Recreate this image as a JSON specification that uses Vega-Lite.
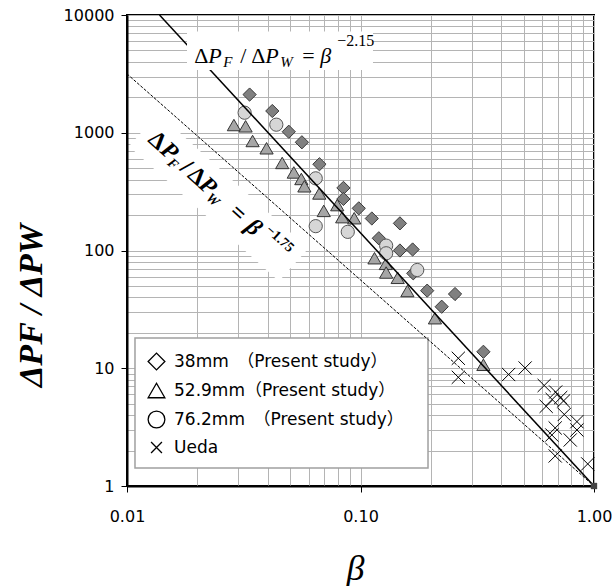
{
  "$schema": "https://vega.github.io/schema/vega-lite/v6.json",
  "width": 467,
  "height": 471,
  "autosize": {"type": "none"},
  "padding": {"left": 127, "top": 15, "right": 19, "bottom": 100},
  "background": "white",
  "config": {
    "view": {"stroke": "black", "strokeWidth": 2},
    "axis": {
      "grid": true,
      "gridColor": "#b4b4b4", "gridWidth": 1, "gridOpacity": 1,
      "domainColor": "black", "domainWidth": 2,
      "tickColor": "black",
      "labelFont": "DejaVu Sans", "labelFontSize": 16, "labelColor": "black"
    }
  },
  "resolve": {"scale": {"shape": "independent"}, "legend": {"shape": "independent"}},
  "layer": [
    {
      "data": {"values": [{}]},
      "mark": {"type": "rule", "color": "white", "strokeWidth": 44, "strokeCap": "butt"},
      "encoding": {
        "x": {"datum": 0.01178, "type": "quantitative", "scale": {"type": "log", "domain": [0.01, 1], "nice": false}, "axis": {"grid": true}},
        "y": {"datum": 1058, "type": "quantitative", "scale": {"type": "log", "domain": [1, 10000], "nice": false}, "axis": {"grid": true}},
        "x2": {"datum": 0.0517},
        "y2": {"datum": 75.5}
      }
    },
    {
      "data": {"values": [{}]},
      "mark": {"type": "rect", "fill": "white", "stroke": "#a0a0a0", "strokeWidth": 1.5},
      "encoding": {
        "x": {"datum": 0.01082, "type": "quantitative"},
        "x2": {"datum": 0.1946},
        "y": {"datum": 18.07, "type": "quantitative"},
        "y2": {"datum": 1.422}
      }
    },
    {
      "data": {"values": [
        {"b": 0.0335, "r": 2110, "series": "38mm　（Present study）"},
        {"b": 0.0419, "r": 1530, "series": "38mm　（Present study）"},
        {"b": 0.0493, "r": 1020, "series": "38mm　（Present study）"},
        {"b": 0.0561, "r": 830, "series": "38mm　（Present study）"},
        {"b": 0.0667, "r": 540, "series": "38mm　（Present study）"},
        {"b": 0.0845, "r": 340, "series": "38mm　（Present study）"},
        {"b": 0.0845, "r": 274, "series": "38mm　（Present study）"},
        {"b": 0.0983, "r": 228, "series": "38mm　（Present study）"},
        {"b": 0.1118, "r": 187, "series": "38mm　（Present study）"},
        {"b": 0.1475, "r": 170, "series": "38mm　（Present study）"},
        {"b": 0.1198, "r": 127, "series": "38mm　（Present study）"},
        {"b": 0.1475, "r": 100, "series": "38mm　（Present study）"},
        {"b": 0.1672, "r": 102, "series": "38mm　（Present study）"},
        {"b": 0.1682, "r": 64, "series": "38mm　（Present study）"},
        {"b": 0.193, "r": 45.6, "series": "38mm　（Present study）"},
        {"b": 0.2227, "r": 33.3, "series": "38mm　（Present study）"},
        {"b": 0.254, "r": 42.7, "series": "38mm　（Present study）"},
        {"b": 0.336, "r": 13.8, "series": "38mm　（Present study）"},
        {"b": 0.0287, "r": 1163, "series": "52.9mm（Present study）"},
        {"b": 0.0322, "r": 1134, "series": "52.9mm（Present study）"},
        {"b": 0.0345, "r": 851, "series": "52.9mm（Present study）"},
        {"b": 0.0396, "r": 738, "series": "52.9mm（Present study）"},
        {"b": 0.0462, "r": 554, "series": "52.9mm（Present study）"},
        {"b": 0.0518, "r": 460, "series": "52.9mm（Present study）"},
        {"b": 0.0558, "r": 405, "series": "52.9mm（Present study）"},
        {"b": 0.0575, "r": 351, "series": "52.9mm（Present study）"},
        {"b": 0.0666, "r": 305, "series": "52.9mm（Present study）"},
        {"b": 0.0696, "r": 217, "series": "52.9mm（Present study）"},
        {"b": 0.0795, "r": 243, "series": "52.9mm（Present study）"},
        {"b": 0.0835, "r": 192, "series": "52.9mm（Present study）"},
        {"b": 0.094, "r": 188, "series": "52.9mm（Present study）"},
        {"b": 0.1148, "r": 86, "series": "52.9mm（Present study）"},
        {"b": 0.1284, "r": 77, "series": "52.9mm（Present study）"},
        {"b": 0.1288, "r": 65, "series": "52.9mm（Present study）"},
        {"b": 0.1443, "r": 58.6, "series": "52.9mm（Present study）"},
        {"b": 0.1588, "r": 45.3, "series": "52.9mm（Present study）"},
        {"b": 0.2084, "r": 26.6, "series": "52.9mm（Present study）"},
        {"b": 0.336, "r": 10.7, "series": "52.9mm（Present study）"},
        {"b": 0.0319, "r": 1480, "series": "76.2mm　（Present study）"},
        {"b": 0.0436, "r": 1171, "series": "76.2mm　（Present study）"},
        {"b": 0.0643, "r": 410, "series": "76.2mm　（Present study）"},
        {"b": 0.0643, "r": 161, "series": "76.2mm　（Present study）"},
        {"b": 0.0882, "r": 144, "series": "76.2mm　（Present study）"},
        {"b": 0.1288, "r": 110, "series": "76.2mm　（Present study）"},
        {"b": 0.1288, "r": 94.7, "series": "76.2mm　（Present study）"},
        {"b": 0.175, "r": 68.3, "series": "76.2mm　（Present study）"},
        {"b": 0.2624, "r": 12.15, "series": "Ueda"},
        {"b": 0.2624, "r": 8.38, "series": "Ueda"},
        {"b": 0.4309, "r": 8.85, "series": "Ueda"},
        {"b": 0.507, "r": 10.05, "series": "Ueda"},
        {"b": 0.612, "r": 7.14, "series": "Ueda"},
        {"b": 0.685, "r": 6.28, "series": "Ueda"},
        {"b": 0.72, "r": 5.64, "series": "Ueda"},
        {"b": 0.662, "r": 5.43, "series": "Ueda"},
        {"b": 0.74, "r": 5.27, "series": "Ueda"},
        {"b": 0.624, "r": 4.75, "series": "Ueda"},
        {"b": 0.746, "r": 4.05, "series": "Ueda"},
        {"b": 0.845, "r": 3.52, "series": "Ueda"},
        {"b": 0.682, "r": 3.11, "series": "Ueda"},
        {"b": 0.845, "r": 2.99, "series": "Ueda"},
        {"b": 0.66, "r": 2.71, "series": "Ueda"},
        {"b": 0.791, "r": 2.46, "series": "Ueda"},
        {"b": 0.682, "r": 1.8, "series": "Ueda"},
        {"b": 0.94, "r": 1.54, "series": "Ueda"}
      ]},
      "mark": {"type": "point", "filled": true, "size": 175, "strokeWidth": 1, "opacity": 1},
      "encoding": {
        "x": {
          "field": "b", "type": "quantitative",
          "scale": {"type": "log", "domain": [0.01, 1], "nice": false},
          "axis": {
            "grid": true,
            "title": "β", "titleFont": "Liberation Serif", "titleFontStyle": "italic", "titleFontWeight": "normal", "titleFontSize": 36, "titleColor": "black",
            "titleX": 228, "titleY": 93, "titleAlign": "center", "titleBaseline": "alphabetic",
            "values": [0.01,0.02,0.03,0.04,0.05,0.06,0.07,0.08,0.09,0.1,0.2,0.3,0.4,0.5,0.6,0.7,0.8,0.9,1],
            "labelExpr": "(datum.value == 0.01 || datum.value == 0.1 || datum.value == 1) ? format(datum.value, '.2f') : ''",
            "tickSize": {"condition": {"test": "datum.value == 0.01 || datum.value == 0.1 || datum.value == 1", "value": 6}, "value": 0},
            "labelPadding": 16, "labelFlush": false, "labelOverlap": false
          }
        },
        "y": {
          "field": "r", "type": "quantitative",
          "scale": {"type": "log", "domain": [1, 10000], "nice": false},
          "axis": {
            "grid": true,
            "title": "ΔPF / ΔPW", "titleFont": "Liberation Serif", "titleFontStyle": "italic", "titleFontWeight": "bold", "titleFontSize": 34, "titleColor": "black",
            "titleAngle": 270, "titleX": -96, "titleY": 290, "titleAlign": "center", "titleBaseline": "middle",
            "values": [1,2,3,4,5,6,7,8,9,10,20,30,40,50,60,70,80,90,100,200,300,400,500,600,700,800,900,1000,2000,3000,4000,5000,6000,7000,8000,9000,10000],
            "labelExpr": "(datum.value == 1 || datum.value == 10 || datum.value == 100 || datum.value == 1000 || datum.value == 10000) ? format(datum.value, 'd') : ''",
            "tickSize": {"condition": {"test": "datum.value == 1 || datum.value == 10 || datum.value == 100 || datum.value == 1000 || datum.value == 10000", "value": 6}, "value": 0},
            "labelPadding": 7, "labelFlush": false, "labelOverlap": false
          }
        },
        "shape": {
          "field": "series", "type": "nominal", "legend": null,
          "scale": {"domain": ["38mm　（Present study）", "52.9mm（Present study）", "76.2mm　（Present study）", "Ueda"], "range": ["diamond", "triangle-up", "circle", "M-1,-1L1,1M1,-1L-1,1"]}
        },
        "fill": {
          "field": "series", "type": "nominal", "legend": null,
          "scale": {"domain": ["38mm　（Present study）", "52.9mm（Present study）", "76.2mm　（Present study）", "Ueda"], "range": ["#808080", "#a6a6a6", "#d6d6d6", "transparent"]}
        },
        "stroke": {
          "field": "series", "type": "nominal", "legend": null,
          "scale": {"domain": ["38mm　（Present study）", "52.9mm（Present study）", "76.2mm　（Present study）", "Ueda"], "range": ["#3a3a3a", "#333333", "#555555", "#000000"]}
        }
      }
    },
    {
      "data": {"values": [
        {"b": 1, "r": 1, "series": "38mm　（Present study）"},
        {"b": 1, "r": 1, "series": "52.9mm（Present study）"},
        {"b": 1, "r": 1, "series": "76.2mm　（Present study）"},
        {"b": 1, "r": 1, "series": "Ueda"}
      ]},
      "transform": [{"filter": "datum.b > 100"}],
      "mark": {"type": "point", "filled": true, "color": "white", "stroke": "black", "strokeWidth": 1.3, "opacity": 1, "size": 280},
      "encoding": {
        "x": {"field": "b", "type": "quantitative"},
        "y": {"field": "r", "type": "quantitative"},
        "shape": {
          "field": "series", "type": "nominal",
          "scale": {"domain": ["38mm　（Present study）", "52.9mm（Present study）", "76.2mm　（Present study）", "Ueda"], "range": ["diamond", "triangle-up", "circle", "M-0.65,-0.65L0.65,0.65M0.65,-0.65L-0.65,0.65"]},
          "legend": {
            "title": null, "orient": "none", "legendX": 20, "legendY": 337,
            "padding": 0,
            "labelFont": "DejaVu Sans, Noto Sans CJK JP", "labelFontSize": 17, "labelColor": "black", "labelLimit": 400,
            "symbolSize": 280, "symbolStrokeWidth": 1.3,
            "rowPadding": 7, "labelOffset": 8
          }
        }
      }
    },
    {
      "data": {"values": [{"b": 0.01378, "r": 10000}, {"b": 1, "r": 1}]},
      "mark": {"type": "line", "color": "black", "strokeWidth": 1.5},
      "encoding": {"x": {"field": "b", "type": "quantitative"}, "y": {"field": "r", "type": "quantitative"}}
    },
    {
      "data": {"values": [{"b": 0.01, "r": 3162.3}, {"b": 1, "r": 1}]},
      "mark": {"type": "line", "color": "black", "strokeWidth": 1, "strokeDash": [3, 1.5]},
      "encoding": {"x": {"field": "b", "type": "quantitative"}, "y": {"field": "r", "type": "quantitative"}}
    },
    {
      "data": {"values": [{"b": 1, "r": 1}]},
      "mark": {"type": "point", "shape": "square", "filled": true, "size": 40, "color": "#444444", "opacity": 1},
      "encoding": {"x": {"field": "b", "type": "quantitative"}, "y": {"field": "r", "type": "quantitative"}}
    },
    {
      "data": {"values": [{}]},
      "mark": {"type": "rect", "color": "white"},
      "encoding": {
        "x": {"datum": 0.01807, "type": "quantitative"},
        "x2": {"datum": 0.1131},
        "y": {"datum": 7244, "type": "quantitative"},
        "y2": {"datum": 3412}
      }
    },
    {"data": {"values": [{}]}, "mark": {"type": "text", "text": "Δ", "font": "Liberation Serif", "fontSize": 22, "align": "left", "baseline": "alphabetic", "dx": 0, "color": "black"}, "encoding": {"x": {"datum": 0.0194, "type": "quantitative"}, "y": {"datum": 3934, "type": "quantitative"}}},
    {"data": {"values": [{}]}, "mark": {"type": "text", "text": "P", "font": "Liberation Serif", "fontStyle": "italic", "fontSize": 22, "align": "left", "baseline": "alphabetic", "dx": 14, "color": "black"}, "encoding": {"x": {"datum": 0.0194, "type": "quantitative"}, "y": {"datum": 3934, "type": "quantitative"}}},
    {"data": {"values": [{}]}, "mark": {"type": "text", "text": "F", "font": "Liberation Serif", "fontStyle": "italic", "fontSize": 15, "align": "left", "baseline": "alphabetic", "dx": 29, "dy": 4, "color": "black"}, "encoding": {"x": {"datum": 0.0194, "type": "quantitative"}, "y": {"datum": 3934, "type": "quantitative"}}},
    {"data": {"values": [{}]}, "mark": {"type": "text", "text": "/", "font": "Liberation Serif", "fontSize": 22, "align": "left", "baseline": "alphabetic", "dx": 46, "color": "black"}, "encoding": {"x": {"datum": 0.0194, "type": "quantitative"}, "y": {"datum": 3934, "type": "quantitative"}}},
    {"data": {"values": [{}]}, "mark": {"type": "text", "text": "Δ", "font": "Liberation Serif", "fontSize": 22, "align": "left", "baseline": "alphabetic", "dx": 57, "color": "black"}, "encoding": {"x": {"datum": 0.0194, "type": "quantitative"}, "y": {"datum": 3934, "type": "quantitative"}}},
    {"data": {"values": [{}]}, "mark": {"type": "text", "text": "P", "font": "Liberation Serif", "fontStyle": "italic", "fontSize": 22, "align": "left", "baseline": "alphabetic", "dx": 71, "color": "black"}, "encoding": {"x": {"datum": 0.0194, "type": "quantitative"}, "y": {"datum": 3934, "type": "quantitative"}}},
    {"data": {"values": [{}]}, "mark": {"type": "text", "text": "W", "font": "Liberation Serif", "fontStyle": "italic", "fontSize": 15, "align": "left", "baseline": "alphabetic", "dx": 86, "dy": 4, "color": "black"}, "encoding": {"x": {"datum": 0.0194, "type": "quantitative"}, "y": {"datum": 3934, "type": "quantitative"}}},
    {"data": {"values": [{}]}, "mark": {"type": "text", "text": "=", "font": "Liberation Serif", "fontSize": 22, "align": "left", "baseline": "alphabetic", "dx": 108, "color": "black"}, "encoding": {"x": {"datum": 0.0194, "type": "quantitative"}, "y": {"datum": 3934, "type": "quantitative"}}},
    {"data": {"values": [{}]}, "mark": {"type": "text", "text": "β", "font": "Liberation Serif", "fontStyle": "italic", "fontSize": 22, "align": "left", "baseline": "alphabetic", "dx": 126, "color": "black"}, "encoding": {"x": {"datum": 0.0194, "type": "quantitative"}, "y": {"datum": 3934, "type": "quantitative"}}},
    {"data": {"values": [{}]}, "mark": {"type": "text", "text": "−2.15", "font": "Liberation Serif", "fontSize": 16, "align": "left", "baseline": "alphabetic", "dx": 143, "dy": -17, "color": "black"}, "encoding": {"x": {"datum": 0.0194, "type": "quantitative"}, "y": {"datum": 3934, "type": "quantitative"}}},
    {"data": {"values": [{}]}, "mark": {"type": "text", "text": "Δ", "font": "Liberation Serif", "fontWeight": "bold", "fontSize": 24, "angle": 42, "align": "left", "baseline": "alphabetic", "dx": 0, "color": "black"}, "encoding": {"x": {"datum": 0.01218, "type": "quantitative"}, "y": {"datum": 851, "type": "quantitative"}}},
    {"data": {"values": [{}]}, "mark": {"type": "text", "text": "P", "font": "Liberation Serif", "fontWeight": "bold", "fontStyle": "italic", "fontSize": 24, "angle": 42, "align": "left", "baseline": "alphabetic", "dx": 16, "color": "black"}, "encoding": {"x": {"datum": 0.01218, "type": "quantitative"}, "y": {"datum": 851, "type": "quantitative"}}},
    {"data": {"values": [{}]}, "mark": {"type": "text", "text": "F", "font": "Liberation Serif", "fontWeight": "bold", "fontStyle": "italic", "fontSize": 14, "angle": 42, "align": "left", "baseline": "alphabetic", "dx": 30, "dy": 4, "color": "black"}, "encoding": {"x": {"datum": 0.01218, "type": "quantitative"}, "y": {"datum": 851, "type": "quantitative"}}},
    {"data": {"values": [{}]}, "mark": {"type": "text", "text": "/", "font": "Liberation Serif", "fontWeight": "bold", "fontSize": 24, "angle": 42, "align": "left", "baseline": "alphabetic", "dx": 43, "color": "black"}, "encoding": {"x": {"datum": 0.01218, "type": "quantitative"}, "y": {"datum": 851, "type": "quantitative"}}},
    {"data": {"values": [{}]}, "mark": {"type": "text", "text": "Δ", "font": "Liberation Serif", "fontWeight": "bold", "fontSize": 24, "angle": 42, "align": "left", "baseline": "alphabetic", "dx": 53, "color": "black"}, "encoding": {"x": {"datum": 0.01218, "type": "quantitative"}, "y": {"datum": 851, "type": "quantitative"}}},
    {"data": {"values": [{}]}, "mark": {"type": "text", "text": "P", "font": "Liberation Serif", "fontWeight": "bold", "fontStyle": "italic", "fontSize": 24, "angle": 42, "align": "left", "baseline": "alphabetic", "dx": 68, "color": "black"}, "encoding": {"x": {"datum": 0.01218, "type": "quantitative"}, "y": {"datum": 851, "type": "quantitative"}}},
    {"data": {"values": [{}]}, "mark": {"type": "text", "text": "W", "font": "Liberation Serif", "fontWeight": "bold", "fontStyle": "italic", "fontSize": 14, "angle": 42, "align": "left", "baseline": "alphabetic", "dx": 82, "dy": 4, "color": "black"}, "encoding": {"x": {"datum": 0.01218, "type": "quantitative"}, "y": {"datum": 851, "type": "quantitative"}}},
    {"data": {"values": [{}]}, "mark": {"type": "text", "text": "=", "font": "Liberation Serif", "fontWeight": "bold", "fontSize": 24, "angle": 42, "align": "left", "baseline": "alphabetic", "dx": 109, "color": "black"}, "encoding": {"x": {"datum": 0.01218, "type": "quantitative"}, "y": {"datum": 851, "type": "quantitative"}}},
    {"data": {"values": [{}]}, "mark": {"type": "text", "text": "β", "font": "Liberation Serif", "fontWeight": "bold", "fontStyle": "italic", "fontSize": 24, "angle": 42, "align": "left", "baseline": "alphabetic", "dx": 131, "color": "black"}, "encoding": {"x": {"datum": 0.01218, "type": "quantitative"}, "y": {"datum": 851, "type": "quantitative"}}},
    {"data": {"values": [{}]}, "mark": {"type": "text", "text": "−1.75", "font": "Liberation Serif", "fontWeight": "bold", "fontSize": 14, "angle": 42, "align": "left", "baseline": "alphabetic", "dx": 148, "dy": -12, "color": "black"}, "encoding": {"x": {"datum": 0.01218, "type": "quantitative"}, "y": {"datum": 851, "type": "quantitative"}}}
  ]
}
